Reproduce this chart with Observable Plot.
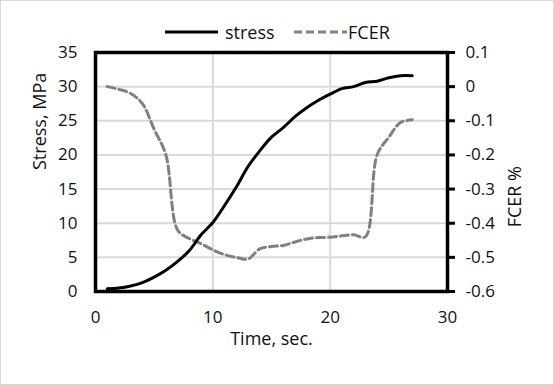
<!DOCTYPE html>
<html>
<head>
<meta charset="utf-8">
<script src="https://cdn.jsdelivr.net/npm/d3@7"></script>
<script src="https://cdn.jsdelivr.net/npm/@observablehq/plot@0.6"></script>
<style>
  html, body { margin: 0; padding: 0; background: #fff; }
  #wrap { position: relative; width: 554px; height: 385px; outline: 1px solid #d9d9d9; outline-offset: -1px; font-family: "Open Sans", sans-serif; color: #111; }
  #legend .item { position: absolute; top: 21px; display: flex; align-items: center; font-size: 18px; line-height: 22px; }
  #legend svg { display: block; }
</style>
</head>
<body>
<div id="wrap">
  <div id="legend"></div>
</div>
<script>
// Time (s)
const time = [1,2,3,4,5,6,7,8,9,10,11,12,13,14,15,16,17,18,19,20,21,22,23,24,25,26,27];
// Stress (MPa)
const stress = [0.4,0.5,0.8,1.3,2.1,3.1,4.4,6.0,8.3,10.1,12.6,15.3,18.3,20.6,22.6,24.0,25.6,26.9,28.0,28.9,29.7,30.0,30.6,30.8,31.3,31.6,31.6];
// FCER (%)
const fcer = [0.0,-0.008,-0.02,-0.05,-0.125,-0.2,-0.42,-0.445,-0.46,-0.478,-0.492,-0.5,-0.505,-0.475,-0.468,-0.465,-0.455,-0.446,-0.442,-0.441,-0.437,-0.434,-0.44,-0.2,-0.148,-0.105,-0.097];

// Axis ticks
const xTicks = [0, 10, 20, 30];
const stressTicks = [0, 5, 10, 15, 20, 25, 30, 35];
const fcerTicks = [0.1, 0, -0.1, -0.2, -0.3, -0.4, -0.5, -0.6];
const fcerTickLabels = ["0.1", "0", "-0.1", "-0.2", "-0.3", "-0.4", "-0.5", "-0.6"];
const fcerDomain = [-0.6, 0.1];
const stressDomain = [0, 35];

// map FCER onto the stress scale (secondary axis)
const toPrimary = f => stressDomain[0] + (f - fcerDomain[0]) / (fcerDomain[1] - fcerDomain[0]) * (stressDomain[1] - stressDomain[0]);

const stressData = time.map((t, i) => ({t, v: stress[i]}));
const fcerData = time.map((t, i) => ({t, v: toPrimary(fcer[i])}));
const rightTicks = fcerTicks.map(toPrimary);

const chart = Plot.plot({
  width: 554,
  height: 385,
  marginLeft: 95,
  marginRight: 107,
  marginTop: 52,
  marginBottom: 94,
  style: { fontFamily: "Open Sans, sans-serif", fontSize: "17px", color: "#111", background: "transparent" },
  x: { domain: [0, 30] },
  y: { domain: stressDomain },
  marks: [
    Plot.gridX(xTicks, { stroke: "#d9d9d9", strokeOpacity: 1, strokeWidth: 2 }),
    Plot.gridY(stressTicks, { stroke: "#d9d9d9", strokeOpacity: 1, strokeWidth: 2 }),
    Plot.axisX(xTicks, { tickSize: 0, tickPadding: 19, label: null, fontSize: 17 }),
    Plot.axisY(stressTicks, { anchor: "left", tickSize: 0, tickPadding: 18, label: null, fontSize: 17 }),
    Plot.axisY(rightTicks, { anchor: "right", tickSize: 7, tickPadding: 11, strokeWidth: 3, stroke: "black", label: null, fontSize: 17,
      tickFormat: d => fcerTickLabels[rightTicks.indexOf(d)] }),
    Plot.line(fcerData, { x: "t", y: "v", stroke: "#808080", strokeWidth: 3, strokeDasharray: "8,4", curve: "catmull-rom" }),
    Plot.line(stressData, { x: "t", y: "v", stroke: "black", strokeWidth: 3, curve: "catmull-rom" }),
    Plot.frame({ stroke: "black", strokeWidth: 3.5 }),
    Plot.text(["Stress, MPa"], { frameAnchor: "left", dx: -55, dy: -2, rotate: -90, fontSize: 18, fill: "#111" }),
    Plot.text(["FCER %"], { frameAnchor: "right", dx: 68, dy: -6, rotate: -90, fontSize: 18, fill: "#111" }),
    Plot.text(["Time, sec."], { frameAnchor: "bottom", dy: 53, fontSize: 18, fill: "#111" })
  ]
});

const wrap = document.getElementById("wrap");
wrap.appendChild(chart);

// Legend
const series = [
  { name: "stress", color: "black", dash: null, left: 165, gap: 7 },
  { name: "FCER", color: "#808080", dash: "8,4", left: 294, gap: 1 }
];
const legend = document.getElementById("legend");
series.forEach(s => {
  const item = document.createElement("div");
  item.className = "item";
  item.style.left = s.left + "px";
  const sw = d3.create("svg").attr("width", 53).attr("height", 10);
  sw.append("line").attr("x1", 0).attr("x2", 53).attr("y1", 5).attr("y2", 5)
    .attr("stroke", s.color).attr("stroke-width", 3).attr("stroke-dasharray", s.dash);
  item.appendChild(sw.node());
  const label = document.createElement("span");
  label.textContent = s.name;
  label.style.marginLeft = s.gap + "px";
  item.appendChild(label);
  legend.appendChild(item);
});
</script>
</body>
</html>
